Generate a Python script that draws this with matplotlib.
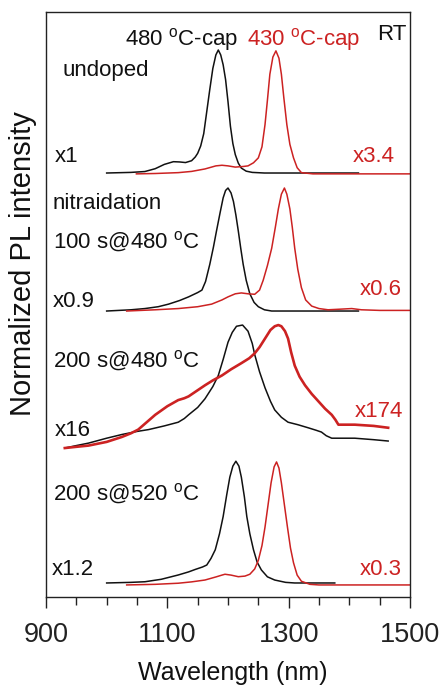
import matplotlib
matplotlib.use("Agg")
import matplotlib.pyplot as plt
from matplotlib.ticker import FixedLocator, MultipleLocator

plt.rcParams['font.family'] = ['Liberation Sans', 'DejaVu Sans']
plt.rcParams['mathtext.fontset'] = 'custom'
plt.rcParams['mathtext.rm'] = 'Liberation Sans'
plt.rcParams['mathtext.it'] = 'Liberation Sans'

RED = '#cc2222'
BLACK = '#111111'

# ---- data: (wavelength nm, normalized PL intensity) ----
# undoped
undoped_480_wl = [1000, 1040, 1063, 1080, 1095, 1110, 1120, 1130, 1140, 1146, 1150, 1155, 1160, 1165,
                  1170, 1175, 1180, 1184, 1188, 1192, 1196, 1200, 1204, 1208, 1212, 1217, 1222, 1230,
                  1240, 1260, 1300, 1350, 1415]
undoped_480_I = [0, 0.005, 0.012, 0.035, 0.07, 0.092, 0.09, 0.085, 0.10, 0.13, 0.16, 0.22, 0.32, 0.50,
                 0.68, 0.85, 0.96, 1.0, 0.96, 0.88, 0.76, 0.58, 0.38, 0.24, 0.15, 0.08, 0.04, 0.015,
                 0.005, 0, 0, 0, 0]
undoped_430_wl = [1049, 1080, 1118, 1140, 1162, 1180, 1190, 1200, 1212, 1225, 1233, 1242, 1250, 1256,
                  1261, 1265, 1269, 1274, 1279, 1284, 1288, 1292, 1297, 1302, 1308, 1314, 1321, 1340,
                  1400, 1500]
undoped_430_I = [0, 0.003, 0.01, 0.02, 0.04, 0.065, 0.07, 0.065, 0.055, 0.06, 0.065, 0.09, 0.13, 0.22,
                 0.40, 0.60, 0.81, 0.95, 1.0, 0.94, 0.81, 0.62, 0.40, 0.24, 0.13, 0.05, 0.01, 0,
                 0, 0]

# nitridation 100 s @ 480 C
n100_480_wl = [1000, 1040, 1063, 1085, 1102, 1120, 1135, 1150, 1157, 1163, 1170, 1176, 1181, 1187,
               1192, 1196, 1200, 1205, 1209, 1213, 1217, 1221, 1225, 1230, 1236, 1243, 1250, 1260,
               1272, 1350, 1415]
n100_480_I = [0, 0.01, 0.02, 0.035, 0.056, 0.085, 0.115, 0.15, 0.17, 0.24, 0.38, 0.52, 0.65, 0.80,
              0.92, 0.98, 1.0, 0.96, 0.89, 0.78, 0.65, 0.51, 0.38, 0.25, 0.14, 0.07, 0.035, 0.01,
              0, 0, 0]
n100_430_wl = [1033, 1080, 1118, 1150, 1173, 1190, 1200, 1212, 1222, 1233, 1244, 1252, 1258, 1265,
               1272, 1278, 1283, 1288, 1293, 1297, 1302, 1306, 1310, 1315, 1321, 1328, 1338, 1350,
               1365, 1385, 1404, 1420, 1450, 1500]
n100_430_I = [0, 0.01, 0.02, 0.035, 0.056, 0.09, 0.115, 0.14, 0.147, 0.14, 0.136, 0.17, 0.25, 0.37,
              0.51, 0.68, 0.83, 0.95, 1.0, 0.95, 0.83, 0.68, 0.51, 0.34, 0.19, 0.09, 0.04, 0.02,
              0.01, 0.015, 0.02, 0.01, 0.005, 0.005]

# nitridation 200 s @ 480 C
n200_480_wl = [931, 950, 970, 1000, 1025, 1050, 1069, 1095, 1118, 1128, 1135, 1150, 1162, 1175,
               1184, 1192, 1200, 1207, 1214, 1224, 1233, 1240, 1244, 1252, 1261, 1270, 1277, 1288,
               1299, 1315, 1332, 1345, 1354, 1362, 1371, 1390, 1409, 1440, 1464]
n200_480_I = [0, 0.02, 0.04, 0.08, 0.11, 0.135, 0.15, 0.18, 0.21, 0.24, 0.27, 0.33, 0.40, 0.50,
              0.59, 0.72, 0.86, 0.94, 0.99, 1.0, 0.95, 0.85, 0.76, 0.62, 0.49, 0.38, 0.31, 0.25,
              0.21, 0.19, 0.165, 0.145, 0.13, 0.10, 0.08, 0.08, 0.08, 0.068, 0.057]
n200_430_wl = [931, 950, 970, 1000, 1025, 1040, 1052, 1066, 1080, 1100, 1118, 1128, 1135, 1150,
               1162, 1175, 1190, 1205, 1222, 1235, 1244, 1252, 1261, 1270, 1277, 1283, 1288, 1294,
               1299, 1304, 1310, 1318, 1327, 1338, 1349, 1360, 1371, 1377, 1382, 1395, 1409, 1440,
               1464]
n200_430_I = [0, 0.01, 0.02, 0.05, 0.09, 0.12, 0.15, 0.21, 0.27, 0.34, 0.39, 0.405, 0.42, 0.47,
              0.51, 0.55, 0.59, 0.64, 0.69, 0.73, 0.77, 0.82, 0.89, 0.96, 0.99, 1.0, 0.99, 0.95,
              0.89, 0.78, 0.67, 0.58, 0.51, 0.44, 0.38, 0.32, 0.27, 0.23, 0.19, 0.19, 0.19, 0.18,
              0.165]

# nitridation 200 s @ 520 C
n200_520_480_wl = [1000, 1040, 1063, 1090, 1118, 1135, 1146, 1158, 1165, 1172, 1179, 1186, 1192, 1198,
                   1203, 1208, 1213, 1218, 1222, 1227, 1231, 1236, 1242, 1248, 1255, 1265, 1277, 1295,
                   1310, 1376]
n200_520_480_I = [0, 0.005, 0.01, 0.03, 0.065, 0.09, 0.11, 0.13, 0.146, 0.20, 0.27, 0.40, 0.54, 0.72,
                  0.86, 0.95, 0.99, 0.95, 0.86, 0.70, 0.54, 0.40, 0.27, 0.17, 0.106, 0.05, 0.024, 0.005,
                  0, 0]
n200_520_430_wl = [1033, 1080, 1118, 1140, 1162, 1180, 1190, 1195, 1205, 1217, 1228, 1236, 1244, 1250,
                   1256, 1261, 1266, 1271, 1276, 1280, 1284, 1288, 1293, 1298, 1303, 1308, 1314, 1321,
                   1335, 1350, 1500]
n200_520_430_I = [0, 0.005, 0.014, 0.025, 0.04, 0.065, 0.08, 0.087, 0.08, 0.067, 0.072, 0.087, 0.13, 0.2,
                  0.32, 0.47, 0.65, 0.83, 0.96, 1.0, 0.95, 0.83, 0.65, 0.47, 0.30, 0.18, 0.08, 0.03,
                  0.005, 0, 0]

# vertical stacking offsets (black, red) per panel
offsets_black = [3.447, 2.325, 1.211, 0.114]
offsets_red = [3.44, 2.325, 1.211, 0.098]
black_factors = ['x1', 'x0.9', 'x16', 'x1.2']
red_factors = ['x3.4', 'x0.6', 'x174', 'x0.3']
x_ticks = [900, 1100, 1300, 1500]

black_series = [(undoped_480_wl, undoped_480_I), (n100_480_wl, n100_480_I),
                (n200_480_wl, n200_480_I), (n200_520_480_wl, n200_520_480_I)]
red_series = [(undoped_430_wl, undoped_430_I), (n100_430_wl, n100_430_I),
              (n200_430_wl, n200_430_I), (n200_520_430_wl, n200_520_430_I)]

fig = plt.figure(figsize=(4.41, 6.86), dpi=100)
ax = fig.add_axes([46/441, 1-597/686, 364/441, 585/686])

red_lw = [1.1, 1.1, 1.9, 1.1]
for i in range(4):
    wl, I = black_series[i]
    ax.plot(wl, [v + offsets_black[i] for v in I], color=BLACK, lw=1.1, solid_joinstyle='round')
    wl, I = red_series[i]
    ax.plot(wl, [v + offsets_red[i] for v in I], color=RED, lw=red_lw[i], solid_joinstyle='round')

ax.set_xlim(900, 1500)
ax.set_ylim(0, 4.756)
ax.xaxis.set_major_locator(FixedLocator(x_ticks))
ax.xaxis.set_minor_locator(MultipleLocator(50))
ax.set_yticks([])
ax.tick_params(axis='x', which='major', direction='out', length=8, width=1.0,
               labelsize=19.5, pad=10, colors='#222222')
ax.tick_params(axis='x', which='minor', direction='out', length=5.5, width=1.0, colors='#222222')
for s in ax.spines.values():
    s.set_linewidth(1.0)
    s.set_color('#222222')

ax.set_xlabel('Wavelength (nm)', fontsize=18, color='#111111')
ax.xaxis.set_label_coords((232.5-46)/364, (597-673)/585)
ax.xaxis.label.set_va('center')
ax.set_ylabel('Normalized PL intensity', fontsize=21, color='#111111')
ax.yaxis.set_label_coords((23-46)/364, (597-264)/585)
ax.yaxis.label.set_va('center')

fs = 16
deg = r'$^{\rm o}$'
def ytx(py):
    return (597 - py) / 123.0
def xtx(px):
    return 900 + (px - 46) / (364/600)

ax.text(xtx(125), ytx(45), '480 ' + deg + 'C-cap', fontsize=fs, color=BLACK, va='baseline')
ax.text(xtx(247), ytx(45), '430 ' + deg + 'C-cap', fontsize=fs, color=RED, va='baseline')
ax.text(xtx(377), ytx(40), 'RT', fontsize=fs, color=BLACK, va='baseline')
ax.text(xtx(62), ytx(76), 'undoped', fontsize=fs, color=BLACK, va='baseline')
ax.text(xtx(53), ytx(209), 'nitraidation', fontsize=fs, color=BLACK, va='baseline')
ax.text(xtx(53), ytx(248), '100 s@480 ' + deg + 'C', fontsize=fs, color=BLACK, va='baseline')
ax.text(xtx(53), ytx(367), '200 s@480 ' + deg + 'C', fontsize=fs, color=BLACK, va='baseline')
ax.text(xtx(53), ytx(500), '200 s@520 ' + deg + 'C', fontsize=fs, color=BLACK, va='baseline')

black_lab_pos = [(55, 162), (53, 307), (55, 436), (52, 575)]
red_lab_pos = [(353, 162), (360, 295), (355, 417), (360, 575)]
for i in range(4):
    px, py = black_lab_pos[i]
    ax.text(xtx(px), ytx(py), black_factors[i], fontsize=fs, color=BLACK, va='baseline')
    px, py = red_lab_pos[i]
    ax.text(xtx(px), ytx(py), red_factors[i], fontsize=fs, color=RED, va='baseline')

fig.savefig('out.png', dpi=100)
